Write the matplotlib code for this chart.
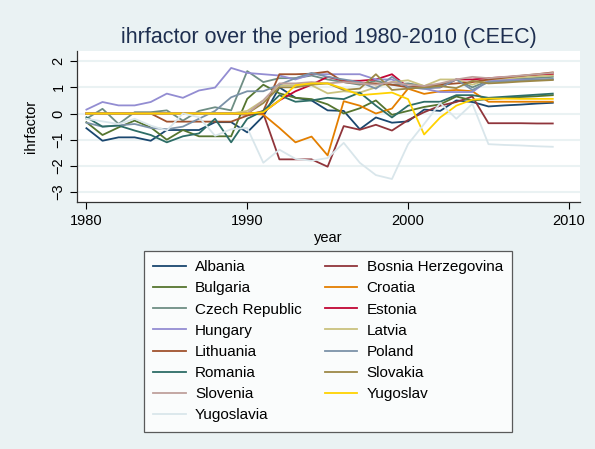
import matplotlib
matplotlib.use('Agg')
import matplotlib.pyplot as plt

plt.rcParams['font.family'] = ['Liberation Sans', 'DejaVu Sans']

# ── Data ──
years = list(range(1980, 2010))

albania = [-0.56, -1.04, -0.91, -0.91, -1.04, -0.63, -0.63, -0.63, -0.33, -0.33,
           -0.72, -0.10, 1.00, 0.60, 0.50, 0.12, 0.10, -0.60, -0.15, -0.35,
           -0.30, 0.15, 0.10, 0.50, 0.44, 0.27, 0.31, 0.34, 0.38, 0.41]
bosnia = [0.0, 0.0, 0.0, 0.0, 0.0, 0.0, 0.0, 0.0, 0.0, 0.0,
          -0.05, 0.0, -1.75, -1.75, -1.75, -2.03, -0.48, -0.62, -0.43, -0.65,
          -0.25, 0.05, 0.30, 0.44, 0.65, -0.37, -0.37, -0.37, -0.38, -0.38]
bulgaria = [-0.33, -0.82, -0.53, -0.27, -0.53, -1.00, -0.63, -0.87, -0.87, -0.87,
            0.56, 1.10, 0.77, 0.60, 0.55, 0.35, 0.00, 0.20, 0.50, -0.05,
            0.10, 0.25, 0.35, 0.65, 0.50, 0.55, 0.59, 0.63, 0.66, 0.70]
croatia = [0.0, 0.0, 0.0, 0.0, 0.0, 0.0, 0.0, 0.0, 0.0, 0.0,
           0.0, -0.04, -0.55, -1.10, -0.88, -1.60, 0.47, 0.30, 0.00, 0.19,
           0.95, 0.75, 0.85, 0.90, 0.85, 0.45, 0.45, 0.45, 0.45, 0.45]
czech = [-0.20, 0.18, -0.40, 0.05, 0.05, 0.12, -0.27, 0.10, 0.24, 0.12,
         1.62, 1.20, 1.35, 1.35, 1.45, 1.30, 1.20, 1.10, 1.25, 1.10,
         1.15, 1.05, 1.10, 1.30, 1.00, 1.25, 1.29, 1.33, 1.36, 1.40]
estonia = [0.0, 0.0, 0.0, 0.0, 0.0, 0.0, 0.0, 0.0, 0.0, 0.0,
           0.0, 0.05, 0.50, 0.85, 1.10, 1.40, 1.25, 1.25, 1.30, 1.50,
           1.00, 1.00, 1.00, 1.30, 1.30, 1.35, 1.39, 1.43, 1.47, 1.50]
hungary = [0.15, 0.44, 0.31, 0.31, 0.44, 0.76, 0.60, 0.88, 0.99, 1.74,
           1.55, 1.50, 1.45, 1.30, 1.50, 1.50, 1.50, 1.50, 1.30, 1.30,
           1.00, 0.95, 0.82, 0.82, 0.82, 1.27, 1.28, 1.29, 1.30, 1.30]
latvia = [0.0, 0.0, 0.0, 0.0, 0.0, 0.0, 0.0, 0.0, 0.0, 0.0,
          0.10, 0.50, 1.08, 1.08, 1.08, 0.77, 0.85, 0.80, 1.00, 1.20,
          1.27, 1.05, 1.30, 1.30, 1.10, 1.30, 1.34, 1.38, 1.42, 1.45]
lithuania = [0.0, 0.0, 0.0, 0.0, 0.0, -0.31, -0.31, -0.31, -0.31, -0.31,
             -0.08, 0.10, 1.50, 1.50, 1.52, 1.60, 1.20, 1.15, 1.15, 1.10,
             1.00, 1.05, 1.10, 1.15, 1.20, 1.30, 1.37, 1.44, 1.50, 1.57]
poland = [-0.35, -0.50, -0.45, -0.40, -0.55, -0.60, -0.50, -0.20, 0.10, 0.62,
          0.85, 0.85, 1.10, 1.35, 1.55, 1.40, 1.30, 1.20, 0.95, 1.40,
          1.00, 0.95, 1.00, 1.30, 0.90, 1.20, 1.23, 1.26, 1.29, 1.32]
romania = [-0.14, -0.50, -0.46, -0.65, -0.82, -1.10, -0.87, -0.76, -0.20, -1.10,
           -0.20, 0.10, 0.70, 0.45, 0.50, 0.60, 0.55, 0.80, 0.30, -0.15,
           0.30, 0.45, 0.45, 0.70, 0.70, 0.60, 0.64, 0.68, 0.72, 0.76]
slovakia = [0.0, 0.0, 0.0, 0.0, 0.0, 0.0, 0.0, 0.0, 0.0, 0.0,
            0.0, 0.40, 1.00, 1.00, 1.10, 1.15, 0.90, 0.95, 1.50, 0.90,
            0.95, 1.00, 1.05, 0.97, 1.25, 1.15, 1.18, 1.22, 1.25, 1.28]
slovenia = [0.0, 0.0, 0.0, 0.0, 0.0, 0.0, 0.0, 0.0, 0.0, 0.0,
            0.0, 0.50, 1.15, 1.15, 1.20, 1.15, 1.20, 1.15, 1.10, 1.20,
            1.10, 1.05, 1.15, 1.30, 1.40, 1.35, 1.40, 1.45, 1.50, 1.55]
yugoslav = [0.0, 0.0, 0.0, 0.0, 0.0, 0.0, 0.0, 0.0, 0.0, 0.0,
            0.0, 0.05, 0.50, 1.08, 1.15, 1.15, 0.95, 0.70, 0.75, 0.80,
            0.55, -0.80, -0.15, 0.30, 0.53, 0.57, 0.57, 0.56, 0.56, 0.56]
yugoslavia = [-0.20, -0.30, -0.40, -0.20, -0.46, -0.65, 0.00, -0.14, -0.85, -0.60,
              -0.55, -1.88, -1.38, -1.73, -1.80, -1.70, -1.12, -1.88, -2.35, -2.50,
              -1.17, -0.40, 0.40, -0.20, 0.37, -1.17, -1.20, -1.22, -1.25, -1.27]

countries = ['Albania', 'Bosnia Herzegovina', 'Bulgaria', 'Croatia', 'Czech Republic',
             'Estonia', 'Hungary', 'Latvia', 'Lithuania', 'Poland', 'Romania',
             'Slovakia', 'Slovenia', 'Yugoslav', 'Yugoslavia']
series = [albania, bosnia, bulgaria, croatia, czech, estonia, hungary, latvia,
          lithuania, poland, romania, slovakia, slovenia, yugoslav, yugoslavia]

# Stata s2color palette
colors = ['#1a476f', '#90353b', '#55752f', '#e37e00', '#6e8e84', '#c10534',
          '#938dd2', '#cac27e', '#a0522d', '#7b92a8', '#2d6d66', '#9c8847',
          '#bfa19c', '#ffd200', '#d9e6eb']

bg = '#eaf2f3'

fig = plt.figure(figsize=(5.95, 4.49), dpi=100)
fig.patch.set_facecolor(bg)
ax = fig.add_axes([0.129, 0.550, 0.846, 0.336])
ax.set_facecolor('white')

handles = []
for name, vals, c in zip(countries, series, colors):
    h, = ax.plot(years, vals, color=c, lw=1.3, label=name)
    handles.append(h)

ax.set_xlim(1979.4, 2010.7)
ax.set_ylim(-3.38, 2.38)
ax.set_xticks([1980, 1990, 2000, 2010])
ax.set_yticks([2, 1, 0, -1, -2, -3])
ax.yaxis.grid(True, color=bg, lw=1.5)
ax.set_axisbelow(True)
ax.tick_params(direction='out', length=5, width=0.8, labelsize=10.5, colors='black')
ax.tick_params(axis='y', pad=3)
for lab in ax.get_yticklabels():
    lab.set_rotation(90)
    lab.set_va('center')
for s in ['top', 'right']:
    ax.spines[s].set_visible(False)
for s in ['left', 'bottom']:
    ax.spines[s].set_color('#333333')
    ax.spines[s].set_linewidth(0.9)

ax.set_xlabel('year', fontsize=10.5, labelpad=2)
ax.set_ylabel('ihrfactor', fontsize=10.5, labelpad=10)
ax.set_title('ihrfactor over the period 1980-2010 (CEEC)', fontsize=15.5,
             color='#1e2f50', pad=6)

# legend order: two columns filled row-wise like Stata
order = [0, 2, 4, 6, 8, 10, 12, 14, 1, 3, 5, 7, 9, 11, 13]
leg = fig.legend([handles[i] for i in order], [countries[i] for i in order],
                 ncol=2, loc='upper center', bbox_to_anchor=(0.551, 0.441),
                 fontsize=11, frameon=True, fancybox=False, handlelength=2.15,
                 handletextpad=0.6, columnspacing=1.5, labelspacing=0.47,
                 borderpad=0.6, borderaxespad=0)
leg.get_frame().set_edgecolor('#333333')
leg.get_frame().set_linewidth(0.9)
leg.get_frame().set_facecolor('white')

fig.savefig('out.png', dpi=100, facecolor=bg)
